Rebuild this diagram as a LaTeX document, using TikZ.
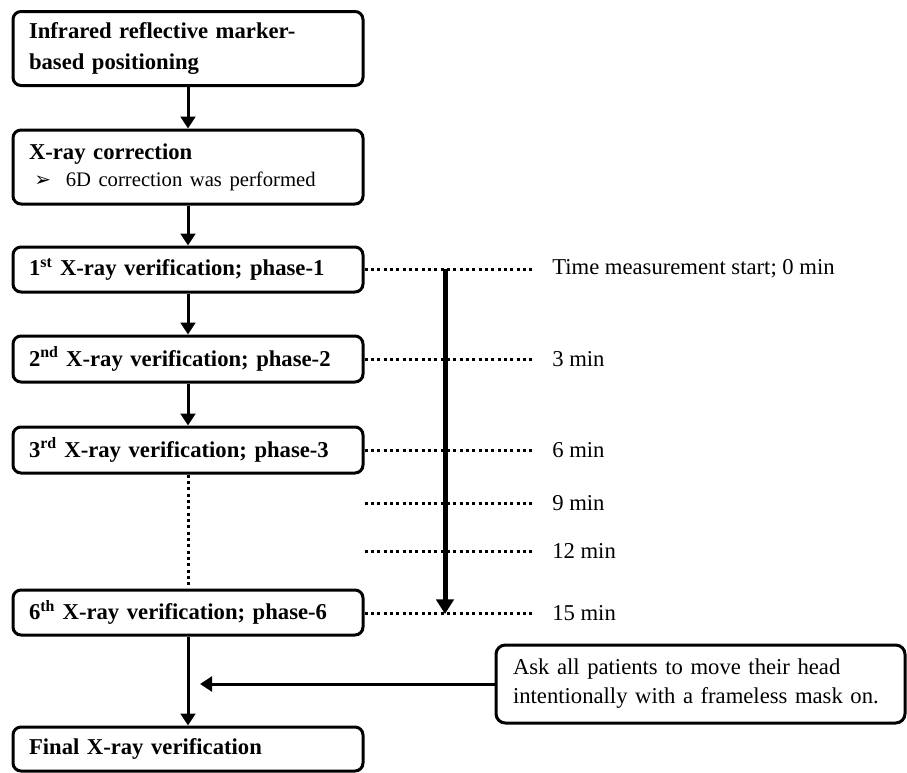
\documentclass[tikz,border=0pt]{standalone}
\usepackage{fontspec}
\setmainfont{Liberation Serif}
\newfontfamily\symfont{DejaVu Sans}
\usetikzlibrary{arrows.meta}

\tikzset{
  stepbox/.style={draw, line width=2.25pt, rounded corners=6pt, minimum width=262.5pt, text width=238.5pt, inner xsep=12pt, align=left, font=\fontsize{17}{23}\selectfont\bfseries},
  notebox/.style={draw, line width=2.25pt, rounded corners=7pt, minimum width=306.75pt, minimum height=58.5pt, text width=281.25pt, inner xsep=12.75pt, align=left, font=\fontsize{17}{21.75}\selectfont},
  flow/.style={line width=2.25pt, -{Triangle[width=11pt,length=9pt]}},
  tick/.style={line width=2.25pt, dash pattern=on 2.25pt off 2.5pt},
  timelabel/.style={anchor=west, inner sep=0pt, font=\fontsize{17}{20}\selectfont},
}

\begin{document}
\begin{tikzpicture}[x=0.75pt,y=0.75pt,yscale=-1]
\useasboundingbox (0,0) rectangle (907,772);

% Step boxes
\node [stepbox, minimum height=55.5pt] (b1) at (188,48.5) {Infrared reflective marker-\\based positioning};
\node [stepbox, minimum height=55.5pt] (b2) at (188,167) {X-ray correction\\[-3pt]
  {\fontsize{15.5}{19}\selectfont\mdseries\hspace*{4pt}{\symfont\fontsize{15}{19}\selectfont ➢}\hspace{11pt}6D correction was performed}};
\node [stepbox, minimum height=33.75pt] (p1) at (188,269.5) {1\textsuperscript{st} X-ray verification; phase-1};
\node [stepbox, minimum height=34.5pt] (p2) at (188,359) {2\textsuperscript{nd} X-ray verification; phase-2};
\node [stepbox, minimum height=34.5pt] (p3) at (188,450) {3\textsuperscript{rd} X-ray verification; phase-3};
\node [stepbox, minimum height=33.75pt] (p6) at (188,612.5) {6\textsuperscript{th} X-ray verification; phase-6};
\node [stepbox, minimum height=33pt] (fin) at (188,749) {Final X-ray verification};

% Note box
\node [notebox] (note) at (700.5,684) {Ask all patients to move their head\\intentionally with a frameless mask on.};

% Time labels
\node [timelabel] (t0) at (552,269) {Time measurement start; 0 min};
\node [timelabel] (t3) at (552,359) {3 min};
\node [timelabel] (t6) at (552,450) {6 min};
\node [timelabel] (t9) at (552,503) {9 min};
\node [timelabel] (t12) at (552,551) {12 min};
\node [timelabel] (t15) at (552,613) {15 min};

\coordinate (tstart) at (445,269);
\coordinate (tend) at (445,614);
\coordinate (hit) at (200,684);

% Flow arrows
\draw [flow] (b1) -- (b2);
\draw [flow] (b2) -- (p1);
\draw [flow] (p1) -- (p2);
\draw [flow] (p2) -- (p3);
\draw [tick] (p3) -- (p6);
\draw [flow] (p6) -- (fin);
\draw [flow] (note) -- (hit);

% Dotted time marks
\draw [tick, shorten >=15pt] (p1.east |- t0.west) -- (t0.west);
\draw [tick, shorten >=15pt] (p2.east |- t3.west) -- (t3.west);
\draw [tick, shorten >=15pt] (p3.east |- t6.west) -- (t6.west);
\draw [tick, shorten >=15pt] (p6.east |- t9.west) -- (t9.west);
\draw [tick, shorten >=15pt] (p6.east |- t12.west) -- (t12.west);
\draw [tick, shorten >=15pt] (p6.east |- t15.west) -- (t15.west);

% Time axis
\draw [line width=3.75pt, -{Triangle[width=13pt,length=11pt]}] (tstart) -- (tend);

\end{tikzpicture}
\end{document}
